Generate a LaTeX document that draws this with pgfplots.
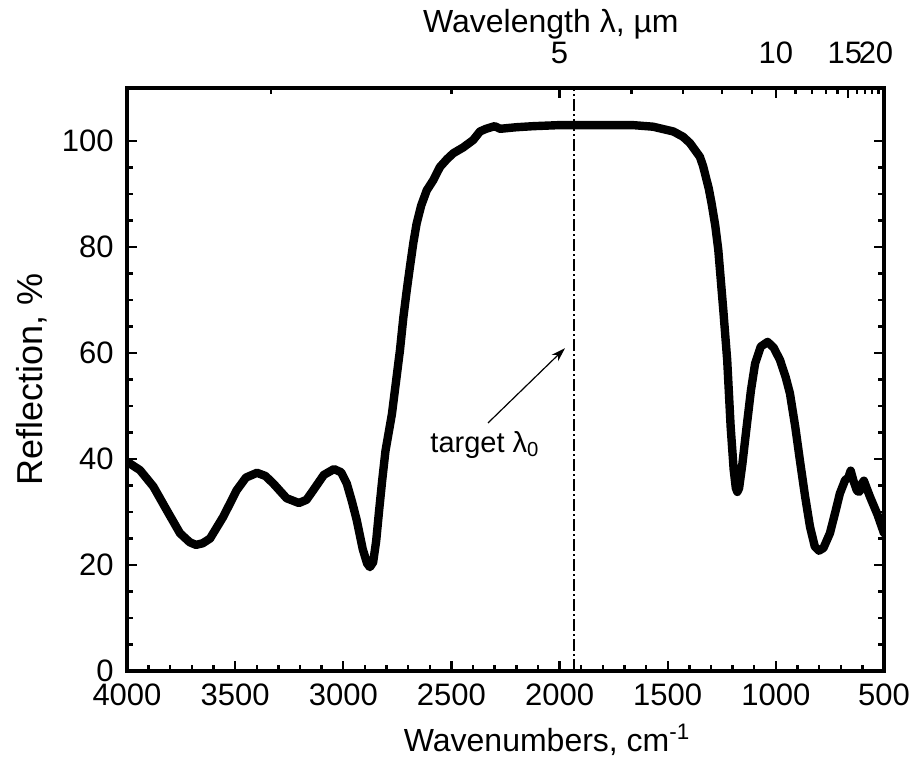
\documentclass[border=0pt]{standalone}
\usepackage{fontspec}
\setmainfont{Liberation Sans}
\usepackage{pgfplots}
\pgfplotsset{compat=1.18}
\usetikzlibrary{arrows.meta}

\begin{document}
\begin{tikzpicture}
\pgfplotsset{
 myaxis/.style={
  scale only axis, width=378.5pt, height=291.5pt,
  xmin=500, xmax=4000, ymin=0, ymax=110, x dir=reverse,
  axis line style={line width=1.6pt},
  every tick/.style={black, line width=1.2pt},
  major tick length=5pt, minor tick length=3pt,
  tick align=inside,
  /pgf/number format/assume math mode=true,
  /pgf/number format/1000 sep={},
  ticklabel style={font=\fontsize{15.5}{18}\selectfont, inner sep=0pt},
 }
}
\begin{axis}[myaxis,
  xtick={500,1000,...,4000}, minor x tick num=4, xtick pos=left,
  ytick={0,20,...,100}, minor y tick num=3, ytick pos=both,
  yticklabel pos=left,
  xticklabel style={anchor=base, yshift=-17.2pt},
  yticklabel style={anchor=east, xshift=-6.5pt},
  xlabel={Wavenumbers, cm\textsuperscript{-1}},
  ylabel={Reflection, \%},
  xlabel style={font=\fontsize{16}{19}\selectfont, at={(axis description cs:0.555,-0.1389)}, anchor=base},
  ylabel style={font=\fontsize{18}{21}\selectfont, at={(axis description cs:-0.111,0.5)}, anchor=base},
]
\addplot[black, line width=4.2pt, line join=round, line cap=round] coordinates {
(4000,39.5) (3940,37.9) (3878,34.8) (3817,30.4) (3755,26.0) (3710,24.3) (3681,23.8)
(3650,24.1) (3616,25.0) (3555,29.1) (3493,34.1) (3450,36.5) (3399,37.4) (3360,36.8)
(3324,35.4) (3262,32.6) (3205,31.7) (3170,32.3) (3139,34.1) (3090,37.0) (3043,38.1)
(3010,37.5) (2984,35.4) (2960,32.0) (2938,28.5) (2910,23.0) (2890,20.3) (2877,19.6)
(2862,20.5) (2848,24.5) (2835,30.0) (2820,36.0) (2805,41.5) (2790,45.0) (2775,48.5)
(2755,55.0) (2738,60.5) (2722,66.8) (2706,72.0) (2692,76.2) (2676,80.8) (2661,84.4)
(2640,87.8) (2614,90.7) (2584,92.6) (2553,95.1) (2520,96.6) (2491,97.7) (2445,98.8)
(2399,100.2) (2368,101.8) (2340,102.3) (2300,102.8) (2275,102.3)
(2200,102.6) (2121,102.8) (2000,103.0) (1938,103.0) (1800,103.0) (1661,103.0) (1568,102.7)
(1474,101.8) (1429,100.8) (1397,99.6) (1351,97.0) (1336,95.2) (1310,91.0) (1297,88.2)
(1280,84.0) (1266,79.4) (1255,74.0) (1243,68.1) (1225,58.7) (1209,46.1) (1195,38.0)
(1185,34.5) (1178,33.8) (1170,34.5) (1155,39.0) (1135,46.1) (1115,53.0) (1096,58.0)
(1070,61.2) (1038,62.1) (1010,61.0) (981,58.7) (955,55.5) (935,52.4) (910,46.0)
(889,39.8) (865,33.0) (842,27.2) (820,23.5) (801,22.7) (780,23.2) (750,26.0)
(725,30.0) (704,33.5) (680,36.0) (665,36.5) (654,37.8) (642,36.0) (625,34.0)
(614,33.8) (600,35.5) (593,35.9) (580,34.5) (565,32.9) (530,29.5) (500,26.0)
};
\addplot[black, line width=0.6pt, dash pattern=on 6pt off 1.5pt on 1pt off 1.5pt] coordinates {(1933,0) (1933,110)};
\draw[-{Stealth[length=7pt,width=4.5pt]}, line width=0.6pt] (axis cs:2331,46.8) -- (axis cs:1975,60.9);
\node[anchor=base, font=\fontsize{14.5}{17}\selectfont] at (axis cs:2345,41.2) {target λ\textsubscript{0}};
\end{axis}
\begin{axis}[myaxis,
  ytick=\empty,
  xtick={2000,1000}, xticklabels={5,10},
  extra x ticks={666.667,500}, extra x tick labels={\hspace*{-3pt}15,20\hspace*{8pt}},
  minor xtick={3333.33,2500,1666.67,1428.57,1250,1111.11,909.09,833.33,769.23,714.29,625,588.24,555.56,526.32},
  xtick pos=right, xticklabel pos=upper,
  xticklabel style={anchor=base, yshift=12.5pt},
  xlabel={Wavelength λ, µm},
  xlabel style={font=\fontsize{16}{19}\selectfont, at={(axis description cs:0.56,1.096)}, anchor=base},
]
\end{axis}
\pgfresetboundingbox
\path (current axis.south west) ++(-63.5pt,-48.5pt) rectangle ++(457pt,384pt);
\end{tikzpicture}
\end{document}
